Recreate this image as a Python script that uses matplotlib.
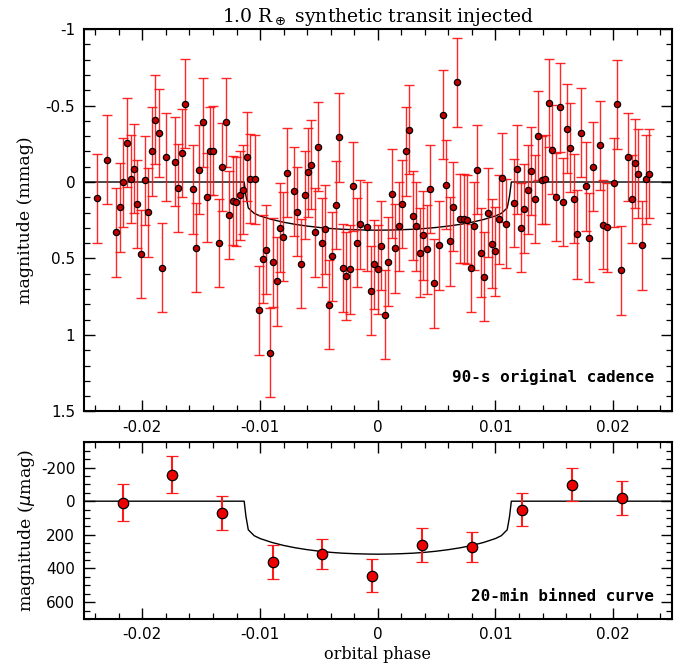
import numpy as np
import matplotlib
matplotlib.use("Agg")
import matplotlib.pyplot as plt
from matplotlib.ticker import MultipleLocator

plt.rcParams.update({
    "font.family": "DejaVu Sans",
    "font.size": 11,
    "axes.unicode_minus": False,
    "xtick.direction": "in",
    "ytick.direction": "in",
    "xtick.top": True,
    "ytick.right": True,
})

# 90-s cadence points (phase, mmag)
phase_raw = [
    -0.02386, -0.02301, -0.02221, -0.02193, -0.02162, -0.02133, -0.02099, -0.02071,
    -0.02043, -0.02009, -0.01977, -0.01949, -0.01921, -0.01892, -0.01858, -0.01833,
    -0.01801, -0.01725, -0.01694, -0.01665, -0.01634, -0.01574, -0.01546, -0.01518,
    -0.01486, -0.01455, -0.01427, -0.01399, -0.01350, -0.01322, -0.01291, -0.01262,
    -0.01234, -0.01204, -0.01173, -0.01144, -0.01113, -0.01085, -0.01040, -0.01008,
    -0.00977, -0.00949, -0.00918, -0.00887, -0.00858, -0.00830, -0.00802, -0.00771,
    -0.00711, -0.00683, -0.00652, -0.00620, -0.00592, -0.00564, -0.00533, -0.00504,
    -0.00473, -0.00445, -0.00416, -0.00385, -0.00357, -0.00326, -0.00295, -0.00266,
    -0.00235, -0.00207, -0.00176, -0.00147, -0.00091, -0.00059, -0.00031, 0.00000,
    0.00031, 0.00059, 0.00090, 0.00119, 0.00150, 0.00178, 0.00207, 0.00238,
    0.00266, 0.00297, 0.00328, 0.00357, 0.00388, 0.00416, 0.00447, 0.00478,
    0.00521, 0.00552, 0.00580, 0.00611, 0.00640, 0.00671, 0.00699, 0.00730,
    0.00759, 0.00790, 0.00818, 0.00847, 0.00878, 0.00906, 0.00937, 0.00968,
    0.00997, 0.01028, 0.01056, 0.01087, 0.01155, 0.01186, 0.01215, 0.01246,
    0.01277, 0.01305, 0.01334, 0.01365, 0.01396, 0.01424, 0.01456, 0.01484,
    0.01515, 0.01546, 0.01577, 0.01606, 0.01636, 0.01665, 0.01696, 0.01724,
    0.01767, 0.01798, 0.01830, 0.01886, 0.01917, 0.01948, 0.02008, 0.02036,
    0.02067, 0.02127, 0.02158, 0.02186, 0.02215, 0.02246, 0.02277, 0.02305,
]
mag_raw = [
    0.107, -0.146, 0.330, 0.165, 0.002, -0.257, -0.020, -0.087,
    0.143, 0.470, -0.011, 0.198, -0.200, -0.407, -0.320, 0.561,
    -0.163, -0.133, 0.039, -0.189, -0.513, 0.048, 0.430, -0.080,
    -0.391, 0.100, -0.202, -0.204, 0.398, -0.098, -0.391, 0.215,
    0.122, 0.128, 0.087, 0.050, -0.165, -0.022, -0.017, 0.839,
    0.504, 0.443, 1.115, 0.526, 0.650, 0.298, 0.357, -0.061,
    0.061, 0.193, 0.535, 0.085, -0.063, -0.113, 0.330, -0.230,
    0.396, 0.309, 0.802, 0.485, 0.150, -0.293, 0.563, 0.615,
    0.570, 0.028, 0.396, 0.276, 0.293, 0.711, 0.537, 0.570,
    0.417, 0.867, 0.522, 0.076, 0.433, 0.289, 0.143, -0.200,
    -0.343, 0.220, 0.289, 0.463, 0.348, 0.441, 0.046, 0.663,
    0.413, -0.441, 0.017, 0.387, 0.161, -0.652, 0.239, 0.239,
    0.246, 0.563, 0.287, -0.080, 0.463, 0.620, 0.200, 0.402,
    0.452, 0.243, -0.028, 0.272, 0.137, -0.083, 0.298, 0.174,
    0.050, -0.072, 0.111, -0.302, -0.013, -0.017, -0.517, -0.211,
    0.098, -0.487, 0.130, -0.348, -0.224, 0.109, 0.341, -0.322,
    0.028, 0.365, -0.100, -0.239, 0.280, 0.296, 0.004, -0.507,
    0.578, -0.163, 0.111, -0.122, -0.054, 0.413, -0.017, -0.054,
]
err_raw = 0.29

# 20-min bins (phase, micro-mag)
phase_bin = [-0.02168, -0.01746, -0.01320, -0.00893, -0.00471, -0.00045,
             0.00378, 0.00804, 0.01226, 0.01652, 0.02075]
mag_bin = [10, -158, 71, 362, 313, 442, 259, 271, 50, -99, -20]
err_bin = [110, 110, 100, 100, 90, 100, 100, 90, 100, 100, 100]

# transit model (phase, mmag)
model_phase = [-0.025, -0.01135, -0.0112, -0.0110, -0.0105, -0.0100, -0.0090,
               -0.0080, -0.0070, -0.0060, -0.0050, -0.0040, -0.0030, -0.0020,
               -0.0010, 0.0, 0.0010, 0.0020, 0.0030, 0.0040, 0.0050, 0.0060,
               0.0070, 0.0080, 0.0090, 0.0100, 0.0105, 0.0110, 0.0112, 0.01135, 0.025]
model_mag = [0, 0, 0.09, 0.17, 0.205, 0.222, 0.245, 0.263, 0.277, 0.288, 0.297,
             0.304, 0.309, 0.312, 0.314, 0.315, 0.314, 0.312, 0.309, 0.304, 0.297,
             0.288, 0.277, 0.263, 0.245, 0.222, 0.205, 0.17, 0.09, 0, 0]

serif = "DejaVu Serif"
xt = [-0.02, -0.01, 0, 0.01, 0.02]
xtl = ["-0.02", "-0.01", "0", "0.01", "0.02"]

fig = plt.figure(figsize=(6.96, 6.64), dpi=100)
ax1 = fig.add_axes([0.120, 0.3803, 0.8455, 0.576])
ax2 = fig.add_axes([0.120, 0.0678, 0.8455, 0.2661])

# top panel
ax1.plot(model_phase, model_mag, color="black", lw=1.0, zorder=1)
ax1.errorbar(phase_raw, mag_raw, yerr=err_raw, fmt="none", ecolor="#ff1010",
             elinewidth=1.0, capsize=3.5, capthick=1.0, alpha=0.9, zorder=2)
ax1.plot(phase_raw, mag_raw, "o", ms=4.5, mfc="#c00000", mec="black", mew=0.9, zorder=3)
ax1.set_xlim(-0.025, 0.025)
ax1.set_ylim(1.5, -1)
ax1.set_xticks(xt)
ax1.set_xticklabels(xtl)
ax1.xaxis.set_minor_locator(MultipleLocator(0.002))
ax1.set_yticks([-1, -0.5, 0, 0.5, 1, 1.5])
ax1.set_yticklabels(["-1", "-0.5", "0", "0.5", "1", "1.5"])
ax1.yaxis.set_minor_locator(MultipleLocator(0.1))
ax1.set_ylabel("magnitude (mmag)", family=serif, fontsize=12.5, labelpad=8)
ax1.set_title(r"1.0 R$_\oplus$ synthetic transit injected", family=serif,
              fontsize=13.5, pad=5)
ax1.text(0.97, 0.09, "90-s original cadence", transform=ax1.transAxes,
         ha="right", va="center", family="DejaVu Sans Mono", weight="bold",
         fontsize=11.5)

# bottom panel
ax2.plot(model_phase, np.array(model_mag) * 1000, color="black", lw=1.0, zorder=1)
ax2.errorbar(phase_bin, mag_bin, yerr=err_bin, fmt="o", ms=7.5, mfc="#ee0000",
             mec="black", mew=0.9, ecolor="#ff1a1a", elinewidth=1.5,
             capsize=4, capthick=1.5, zorder=3)
ax2.set_xlim(-0.025, 0.025)
ax2.set_ylim(700, -350)
ax2.set_xticks(xt)
ax2.set_xticklabels(xtl)
ax2.xaxis.set_minor_locator(MultipleLocator(0.002))
ax2.set_yticks([-200, 0, 200, 400, 600])
ax2.yaxis.set_minor_locator(MultipleLocator(50))
ax2.set_ylabel(r"magnitude ($\mu$mag)", family=serif, fontsize=12.5, labelpad=3)
ax2.set_xlabel("orbital phase", family=serif, fontsize=11.5, labelpad=3)
ax2.text(0.97, 0.13, "20-min binned curve", transform=ax2.transAxes,
         ha="right", va="center", family="DejaVu Sans Mono", weight="bold",
         fontsize=11.5)

for ax in (ax1, ax2):
    for s in ax.spines.values():
        s.set_linewidth(1.5)
    ax.tick_params(which="major", length=8, width=1.0, labelsize=11, pad=6)
    ax.tick_params(which="minor", length=4.5, width=0.9)

fig.savefig("out.png", dpi=100)
